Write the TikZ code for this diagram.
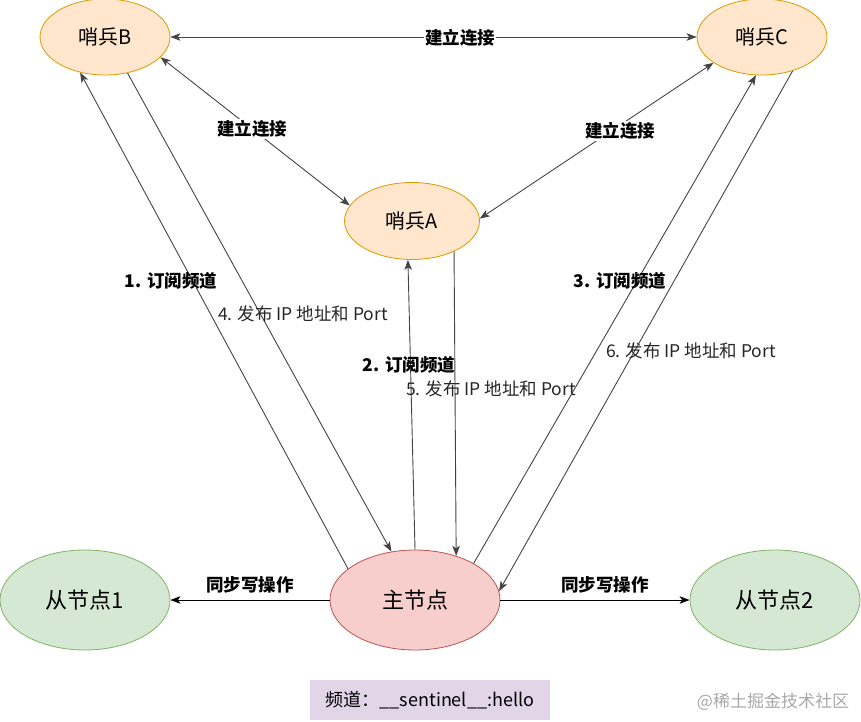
\documentclass[tikz,border=0pt]{standalone}
\usepackage{fontspec}
\setmainfont{Noto Sans CJK SC}
\usetikzlibrary{shapes.geometric,arrows.meta}
\definecolor{sfill}{HTML}{FFE6CC}
\definecolor{sline}{HTML}{D79B00}
\definecolor{mfill}{HTML}{F8CECC}
\definecolor{mline}{HTML}{B85450}
\definecolor{gfill}{HTML}{D5E8D4}
\definecolor{gline}{HTML}{82B366}
\definecolor{pfill}{HTML}{E1D5E7}
\definecolor{eline}{HTML}{444444}
\definecolor{wmark}{HTML}{A8A8A8}
\begin{document}
\begin{tikzpicture}[x=1pt,y=-1pt,
  >={Stealth[length=10pt,width=7.5pt,inset=2.5pt]},
  sentinel/.style={ellipse,draw=sline,fill=sfill,line width=0.8pt,minimum width=130pt,minimum height=76pt,inner sep=0pt,font=\fontsize{20}{23}\selectfont},
  master/.style={ellipse,draw=mline,fill=mfill,line width=0.8pt,minimum width=170pt,minimum height=100pt,inner sep=0pt,font=\fontsize{22}{26}\selectfont},
  slave/.style={ellipse,draw=gline,fill=gfill,line width=0.8pt,minimum width=170pt,minimum height=100pt,inner sep=0pt,font=\fontsize{22}{26}\selectfont},
  conn/.style={draw=eline,line width=0.9pt},
  sync/.style={draw=black,line width=0.9pt},
  boldlbl/.style={font=\fontsize{17.5}{20}\selectfont\bfseries,inner sep=1pt},
  lbl/.style={font=\fontsize{17.5}{20}\selectfont,text=black!85,inner sep=1pt},
  lblbg/.style={boldlbl,fill=white}
]
\useasboundingbox (0,0) rectangle (861,721);

% nodes
\node[sentinel] (B) at (105,37) {哨兵B};
\node[sentinel] (C) at (762,37) {哨兵C};
\node[sentinel,minimum width=135pt,minimum height=77pt] (A) at (412,221) {哨兵A};
\node[master] (M) at (415,600) {主节点};
\node[slave] (S1) at (85,600) {从节点1};
\node[slave] (S2) at (775,600) {从节点2};
\node[fill=pfill,minimum width=240pt,minimum height=40pt,inner sep=0pt,font=\fontsize{18}{21}\selectfont] (chan) at (430,700) {频道：\_\_sentinel\_\_:hello};
\node[text=wmark,font=\fontsize{17}{20}\selectfont,inner sep=0pt] (wm) at (773,702) {@稀土掘金技术社区};

% sentinel links
\draw[conn,<->] (B.0) -- (C.180);
\node[lblbg] (l1) at (460,38) {建立连接};
\draw[conn,<->] (B.-20) -- (A.166);
\node[lblbg] (l2) at (252,129) {建立连接};
\draw[conn,<->] (C.-152) -- (A.2.4);
\node[lblbg] (l3) at (620,131) {建立连接};

% subscriptions and publications
\draw[conn,->] (M.155.7) -- (B.-125.4);
\node[boldlbl] (o1) at (171,281) {1. 订阅频道};
\draw[conn,->] (B.-58.6) -- (M.116.6);
\node[lbl] (o4) at (303,314) {4. 发布 IP 地址和 Port};
\draw[conn,->] (M.90) -- (A.-96.8);
\node[boldlbl] (o2) at (409,365) {2. 订阅频道};
\draw[conn,->] (A.-36.7) -- (M.47);
\node[lbl] (o5) at (491,389) {5. 发布 IP 地址和 Port};
\draw[conn,->] (M.32.8) -- (C.-99.9);
\node[boldlbl] (o3) at (620,281) {3. 订阅频道};
\draw[conn,->] (C.-48.5) -- (M.6.7);
\node[lbl] (o6) at (691,351) {6. 发布 IP 地址和 Port};

% sync
\draw[sync,->] (M.180) -- (S1.0);
\node[boldlbl] (w1) at (250,585) {同步写操作};
\draw[sync,->] (M.0) -- (S2.180);
\node[boldlbl] (w2) at (605,585) {同步写操作};
\end{tikzpicture}
\end{document}
